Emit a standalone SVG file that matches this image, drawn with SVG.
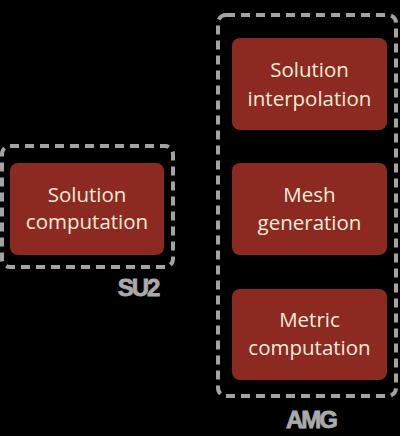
<svg xmlns="http://www.w3.org/2000/svg" width="400" height="436" viewBox="0 0 400 436">
<style>
.bg{fill:#000}
.grp{fill:none;stroke:#a3a3a3;stroke-width:4;stroke-dasharray:9 6}
.node{fill:#8c2a22}
.t{font-family:"Open Sans","Noto Sans",sans-serif;font-size:20.5px;fill:#f6ead8;text-anchor:middle}
.lbl{font-family:"Liberation Sans",Arial,sans-serif;font-weight:bold;font-size:24px;letter-spacing:-2px;fill:#aaaaaa;text-anchor:middle;stroke:#aaaaaa;stroke-width:0.8}
</style>
<rect class="bg" x="0" y="0" width="400" height="436"/>
<g id="su2-group">
<rect class="grp" x="2" y="146" width="171" height="121" rx="8"/>
<text class="lbl" x="138" y="296">SU2</text>
</g>
<g id="amg-group">
<rect class="grp" x="218" y="15" width="178" height="381" rx="8"/>
<text class="lbl" x="311" y="428">AMG</text>
</g>
<g id="solution-computation">
<rect class="node" x="10" y="163" width="154" height="92" rx="8"/>
<text class="t" x="87" y="202">Solution</text>
<text class="t" x="87" y="229">computation</text>
</g>
<g id="solution-interpolation">
<rect class="node" x="232" y="38" width="155" height="92" rx="8"/>
<text class="t" x="309.5" y="77">Solution</text>
<text class="t" x="309.5" y="106">interpolation</text>
</g>
<g id="mesh-generation">
<rect class="node" x="232" y="163" width="155" height="92" rx="8"/>
<text class="t" x="309.5" y="202">Mesh</text>
<text class="t" x="309.5" y="230">generation</text>
</g>
<g id="metric-computation">
<rect class="node" x="232" y="289" width="155" height="91" rx="8"/>
<text class="t" x="309.5" y="327">Metric</text>
<text class="t" x="309.5" y="355">computation</text>
</g>
<g id="connectors"></g>
</svg>
